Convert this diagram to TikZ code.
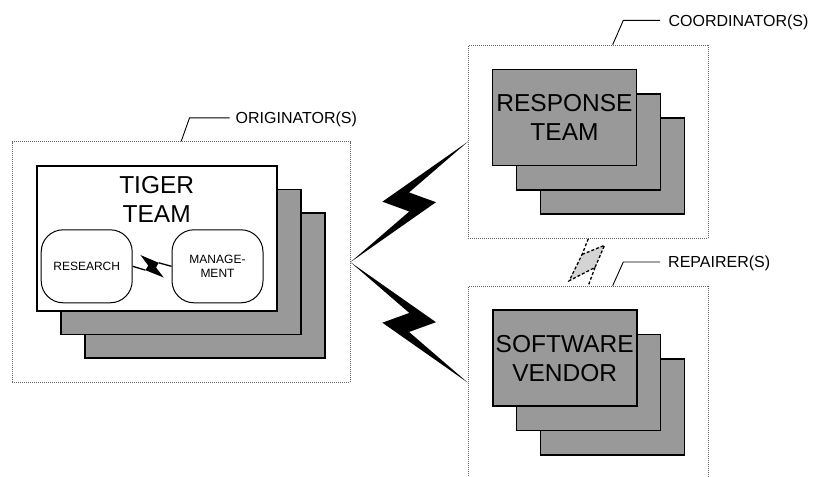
\documentclass[tikz,border=0pt]{standalone}
\usepackage{fontspec}
\setmainfont{Liberation Sans}
\usetikzlibrary{calc}

\definecolor{cardgray}{RGB}{153,153,153}
\definecolor{linkgray}{RGB}{212,212,212}
\definecolor{framegray}{RGB}{100,100,100}

\newcommand\cardfnt{\fontsize{24.5}{29}\selectfont}
\newcommand\tagfnt{\fontsize{16}{19}\selectfont}
\newcommand\subfnt{\fontsize{12}{14.6}\selectfont}

% point at fraction #3 of the way from (#1) to (#2), moved sideways by #4
% times that distance (positive = left of the direction of travel)
\newcommand\alongpt[5]{\coordinate (#5) at ($(#1)!#3!(#2) + (#1)!#4!90:(#2) - (#1)$);}

% large lightning link from #1 to #2; #3 = 1 or -1 picks the hand; #4 = prefix
\newcommand\bigbolt[4]{%
  \pgfmathsetmacro\bwa{(#3)*0.115}%
  \pgfmathsetmacro\bwb{0-(#3)*0.115}%
  \pgfmathsetmacro\bwc{(#3)*0.04}%
  \pgfmathsetmacro\bwd{0-(#3)*0.04}%
  \alongpt{#1}{#2}{0.39}{\bwa}{#4L}
  \alongpt{#1}{#2}{0.61}{\bwb}{#4R}
  \alongpt{#1}{#2}{0.54}{\bwc}{#4U}
  \alongpt{#1}{#2}{0.46}{\bwd}{#4D}
  \fill (#1) -- (#4D) -- (#4L) -- (#2) -- (#4U) -- (#4R) -- cycle;
}

% small lightning link with straight lead-in wires; #3 = prefix
\newcommand\smallbolt[3]{%
  \alongpt{#1}{#2}{0.20}{0.29}{#3a}
  \alongpt{#1}{#2}{0.67}{0.09}{#3b}
  \alongpt{#1}{#2}{0.60}{-0.03}{#3c}
  \alongpt{#1}{#2}{0.80}{-0.29}{#3d}
  \alongpt{#1}{#2}{0.33}{-0.10}{#3e}
  \alongpt{#1}{#2}{0.40}{0.02}{#3f}
  \fill (#3a) -- (#3b) -- (#3c) -- (#3d) -- (#3e) -- (#3f) -- cycle;
  \draw[line width=1.3pt] (#1) -- (#3e) (#3b) -- (#2);
}

\begin{document}
\begin{tikzpicture}[x=1pt,y=-1pt,
  frame/.style={draw=framegray, dash pattern=on 1pt off 1pt, line width=0.8pt,
    inner sep=0pt, fill=none},
  card/.style={draw=black, line width=1.8pt, fill=cardgray, inner sep=0pt,
    minimum width=144pt, minimum height=96pt, font=\cardfnt, align=center},
  bigcard/.style={card, minimum width=240pt, minimum height=145pt},
  unit/.style={draw=black, line width=1pt, fill=white, rounded corners=22pt,
    minimum width=91pt, minimum height=73pt, inner sep=0pt, font=\subfnt,
    align=center},
  tag/.style={font=\tagfnt, inner sep=0pt},
  leader/.style={draw=black, line width=0.9pt},
  dashlink/.style={draw=black, line width=1.3pt, dash pattern=on 3pt off 2pt},
]
\useasboundingbox (0,0) rectangle (815,477);

% ---- group frames -------------------------------------------------------
\node[frame, minimum width=337.7pt, minimum height=241pt] (orig) at (181.2,262.2) {};
\node[frame, minimum width=240pt, minimum height=193.3pt] (coord) at (588.3,141.7) {};
\node[frame, minimum width=240pt, minimum height=193.3pt] (rep) at (588.3,382.7) {};

% ---- tiger team stack ---------------------------------------------------
\node[bigcard] (tiger3) at (205,285.8) {};
\node[bigcard] (tiger2) at (180.8,262) {};
\node[bigcard, fill=white] (tiger1) at (156.7,238.2) {};
\node[font=\cardfnt, align=center, inner sep=0pt] (tigertitle)
  at ($(tiger1.north)+(0,34.8)$) {TIGER\\TEAM};
\node[unit] (research) at (86.7,266.3) {RESEARCH};
\node[unit] (mgmt) at (217.5,266.3) {MANAGE-\\MENT};
\smallbolt{research.east}{mgmt.west}{sb}

% ---- response team stack ------------------------------------------------
\node[card] (resp3) at (612.5,165.7) {};
\node[card] (resp2) at (588.5,141.6) {};
\node[card] (resp1) at (564.5,117.5) {RESPONSE\\TEAM};

% ---- software vendor stack ----------------------------------------------
\node[card] (soft3) at (612.5,406.6) {};
\node[card] (soft2) at (588.5,382.5) {};
\node[card] (soft1) at (564.7,358.3) {SOFTWARE\\VENDOR};

% ---- group tags ---------------------------------------------------------
\coordinate (olead) at (orig.north);
\coordinate (oend) at ($(olead)+(48.3,-23.4)$);
\draw[leader] (olead) -- ++(8.3,-23.4) -- (oend);
\node[tag, anchor=base west] (otag) at ($(oend)+(6,5.7)$) {ORIGINATOR(S)};

\coordinate (clead) at ($(coord.north)+(24.4,0)$);
\coordinate (cend) at ($(clead)+(47.3,-24.3)$);
\draw[leader] (clead) -- ++(10.6,-24.3) -- (cend);
\node[tag, anchor=base west] (ctag) at ($(cend)+(8.4,5.7)$) {COORDINATOR(S)};

\coordinate (rlead) at ($(rep.north)+(24.4,0)$);
\coordinate (rend) at ($(rlead)+(47.3,-23.7)$);
\draw[leader] (rlead) -- ++(10.6,-23.7) -- (rend);
\node[tag, anchor=base west] (rtag) at ($(rend)+(8,5.7)$) {REPAIRER(S)};

% ---- links --------------------------------------------------------------
\bigbolt{orig.east}{coord.west}{1}{ub}
\bigbolt{orig.east}{rep.west}{-1}{lb}

\alongpt{coord.south}{rep.north}{0.335}{-0.132}{dq1}
\alongpt{coord.south}{rep.north}{0.14}{0.346}{dtr}
\alongpt{coord.south}{rep.north}{0.612}{0.143}{dq2}
\alongpt{coord.south}{rep.north}{0.895}{-0.407}{dbl}
\draw[dashlink] (coord.south) -- (dq1);
\filldraw[dashlink, fill=linkgray] (dq1) -- (dtr) -- (dq2) -- (dbl) -- cycle;
\draw[dashlink] (dq2) -- (rep.north);
\end{tikzpicture}
\end{document}
